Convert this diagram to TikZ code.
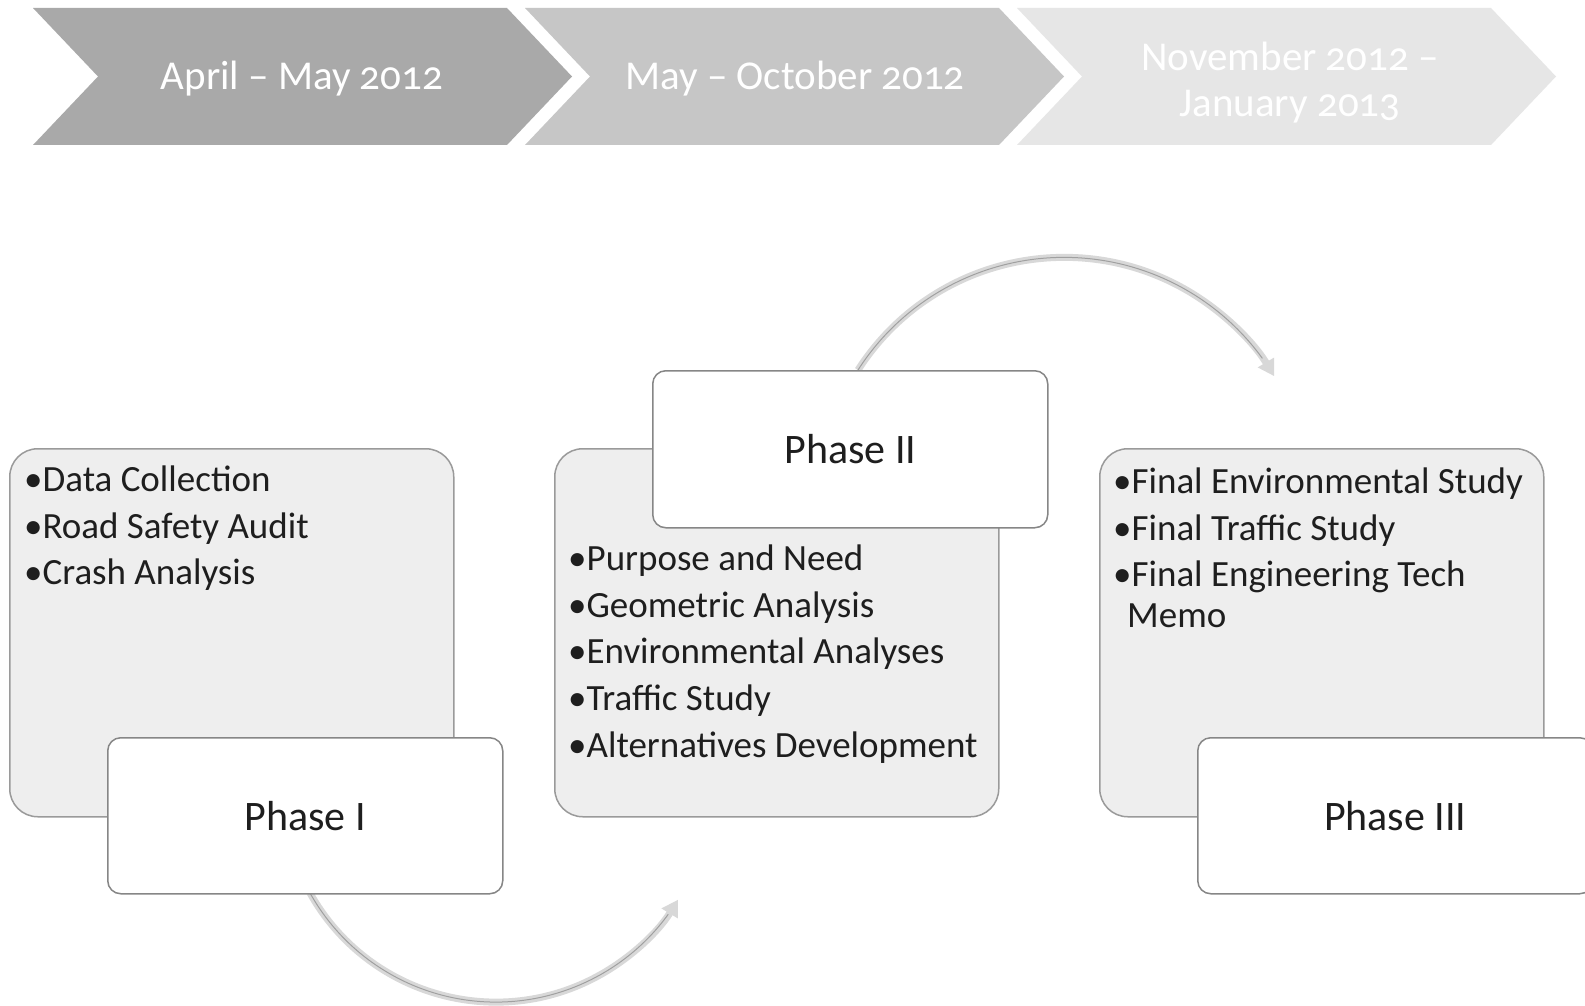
\documentclass[tikz,border=0pt]{standalone}
\usepackage{fontspec}
\setmainfont{Carlito}
\newfontfamily\chevfont[Numbers=OldStyle]{Carlito}
\usetikzlibrary{arrows.meta}
\definecolor{chevA}{HTML}{A9A9A9}
\definecolor{chevB}{HTML}{C6C6C6}
\definecolor{chevC}{HTML}{E6E6E6}
\definecolor{panelfill}{HTML}{EEEEEE}
\definecolor{panelline}{HTML}{9A9A9A}
\definecolor{phaseline}{HTML}{868686}
\definecolor{txt}{HTML}{1E1E1E}
\definecolor{arcfill}{HTML}{D8D8D8}
\definecolor{arcline}{HTML}{A0A0A0}
\begin{document}
\begin{tikzpicture}[x=1pt,y=-1pt,
  panel/.style={draw=panelline, line width=1.5pt, fill=panelfill, rounded corners=28pt,
    minimum width=444pt, minimum height=368pt, anchor=north west, inner sep=0pt},
  phasebox/.style={draw=phaseline, line width=1.5pt, fill=white, rounded corners=13pt,
    minimum width=395pt, minimum height=156pt, anchor=north west, inner sep=0pt,
    font=\fontsize{42}{50}\selectfont, text=txt},
  listtxt/.style={anchor=base west, inner sep=0pt, font=\fontsize{37}{44}\selectfont, text=txt},
  chevtxt/.style={anchor=base, inner sep=0pt, font=\chevfont\fontsize{41}{46}\selectfont, text=white},
  arcband/.style={line width=7pt, draw=arcfill, -{Triangle[length=16pt,width=18pt]}},
  arcedge/.style={line width=1pt, draw=arcline},
]
\useasboundingbox (0,0) rectangle (1585,1006);
\fill[white] (0,0) rectangle (1585,1006);

% chevrons
\fill[chevA] (33,8) -- (507,8) -- (572,76.5) -- (507,145) -- (33,145) -- (98,76.5) -- cycle;
\fill[chevB] (525,8) -- (999,8) -- (1064,76.5) -- (999,145) -- (525,145) -- (590,76.5) -- cycle;
\fill[chevC] (1017,8) -- (1491,8) -- (1556,76.5) -- (1491,145) -- (1017,145) -- (1082,76.5) -- cycle;
\node[chevtxt] (t1) at (302,90) {April – May 2012};
\node[chevtxt] (t2) at (795,90) {May – October 2012};
\node[chevtxt] (t3a) at (1290,71) {November 2012 –};
\node[chevtxt] (t3b) at (1290,117) {January 2013};

% panels
\node[panel] (p1) at (9,448) {};
\node[panel] (p2) at (554,448) {};
\node[panel] (p3) at (1099,448) {};

% arcs (behind phase boxes)
\coordinate (a1) at ([xshift=206pt]652,370);
\coordinate (a2) at ([xshift=203pt]107,893);
\draw[arcband] (a1) arc[start angle=-147.3, end angle=-31, radius=245];
\draw[arcedge] (a1) arc[start angle=-147.3, end angle=-36, radius=245];
\draw[arcband] (a2) arc[start angle=150.8, end angle=31.3, radius=213];
\draw[arcedge] (a2) arc[start angle=150.8, end angle=36, radius=213];

\node[phasebox] (ph1) at (107,737) {Phase I};
\node[phasebox, minimum height=157pt] (ph2) at (652,370) {Phase II};
\node[phasebox] (ph3) at (1197,737) {Phase III};

% lists
\node[listtxt] (l11) at (24,491.5) {•Data Collection};
\node[listtxt] (l12) at (24,538) {•Road Safety Audit};
\node[listtxt] (l13) at (24,584.5) {•Crash Analysis};

\node[listtxt] (l21) at (568,570) {•Purpose and Need};
\node[listtxt] (l22) at (568,617) {•Geometric Analysis};
\node[listtxt] (l23) at (568,663.5) {•Environmental Analyses};
\node[listtxt] (l24) at (568,710) {•Traffic Study};
\node[listtxt] (l25) at (568,757) {•Alternatives Development};

\node[listtxt] (l31) at (1113,493) {•Final Environmental Study};
\node[listtxt] (l32) at (1113,540) {•Final Traffic Study};
\node[listtxt] (l33) at (1113,586) {•Final Engineering Tech};
\node[listtxt] (l34) at (1127,627) {Memo};
\end{tikzpicture}
\end{document}
